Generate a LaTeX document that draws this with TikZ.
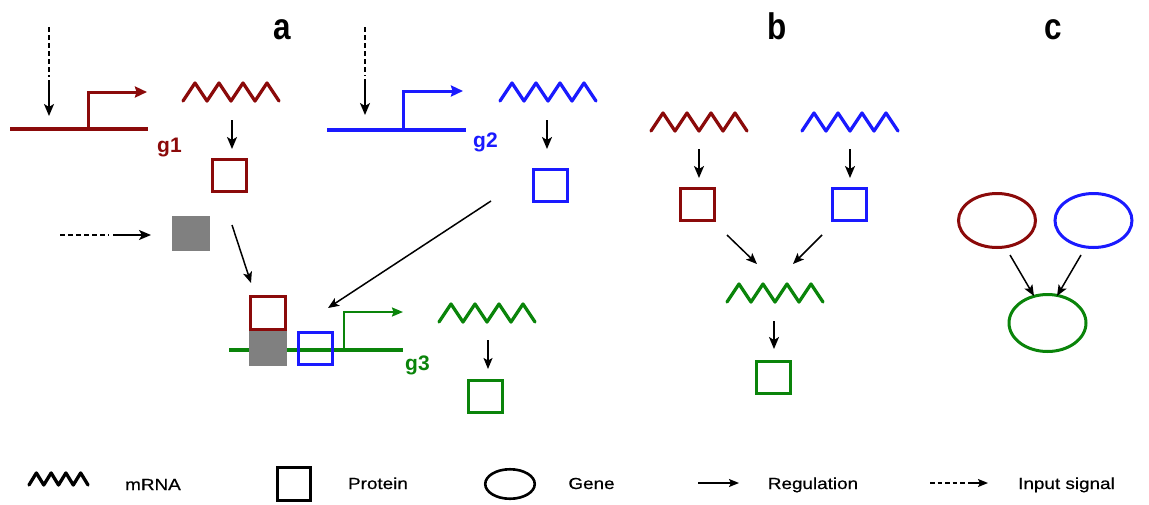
\documentclass[tikz,border=0pt]{standalone}
\usepackage{fontspec}
\usepackage{graphicx}
\setmainfont{Liberation Sans}
\newfontfamily\legfont[FakeBold=0.5]{Liberation Sans}
\usetikzlibrary{arrows.meta,shapes.geometric}

\definecolor{gred}{HTML}{8B0A0A}
\definecolor{gblue}{HTML}{1A1AFF}
\definecolor{ggreen}{HTML}{0A840A}
\definecolor{ggray}{HTML}{808080}

\newcommand{\legtxt}[1]{\scalebox{1.18}[1]{#1}}
\newcommand{\ttl}[1]{\scalebox{0.85}[1]{#1}}

\tikzset{
  mrna/.pic={
    \draw[line width=3.3pt, line join=round, line cap=round, pic actions]
      (0,0) -- (12,-18) -- (24,0) -- (36,-18) -- (48,0)
      -- (60,-18) -- (72,0) -- (84,-18) -- (96,0);
  },
  prot/.style={draw, line width=3pt, minimum width=34pt, minimum height=32pt, inner sep=0pt},
  cplx/.style={fill=ggray, minimum width=38pt, minimum height=35pt, inner sep=0pt},
  gene/.style={draw, ellipse, line width=3pt, minimum width=77pt, minimum height=54pt, inner sep=0pt},
  dna/.style={line width=4pt},
  promoter/.style={line width=3pt, line join=miter, -{Stealth[length=12pt,width=11pt,inset=1.5pt]}},
  reg/.style={line width=1.7pt, -{Stealth[length=12pt,width=10pt,inset=3pt]}},
  regthin/.style={line width=1.5pt, -{Stealth[length=11pt,width=9pt,inset=2.5pt]}},
  sigdash/.style={line width=1.6pt, dash pattern=on 5pt off 3pt},
  glabel/.style={font=\bfseries\fontsize{21}{21}\selectfont, anchor=base west, inner sep=0pt},
  title/.style={font=\bfseries\fontsize{37}{37}\selectfont, anchor=base, inner sep=0pt},
  legend/.style={font=\legfont\fontsize{16}{16}\selectfont, anchor=base, inner sep=0pt},
}

\begin{document}
\begin{tikzpicture}[x=1pt, y=-1pt]
\useasboundingbox (0,0) rectangle (1149,504);

% ---------- panel titles ----------
\node[title] (ta) at (282.5,39) {\ttl{a}};
\node[title] (tb) at (777.5,39) {\ttl{b}};
\node[title] (tc) at (1053,39) {\ttl{c}};

% ================= panel a =================
% gene g1
\coordinate (g1l) at (10,129);
\coordinate (g1r) at (148,129);
\coordinate (g1p) at (88,129);
\coordinate (g1t) at (147,92);
\draw[dna, gred] (g1l) -- (g1r);
\draw[promoter, gred] (g1p) |- (g1t);
\node[glabel, gred] (lg1) at (157,152) {g1};
\pic[draw=gred] (m1) at (183,101) {mrna};
\node[prot, gred] (p1) at (229.5,175.5) {};

% gene g2
\coordinate (g2l) at (327,130);
\coordinate (g2r) at (466,130);
\coordinate (g2p) at (403,130);
\coordinate (g2t) at (463,91);
\draw[dna, gblue] (g2l) -- (g2r);
\draw[promoter, gblue] (g2p) |- (g2t);
\node[glabel, gblue] (lg2) at (473,147) {g2};
\pic[draw=gblue] (m2) at (500,101) {mrna};
\node[prot, gblue] (p2) at (550.5,185.5) {};

% external signal protein
\node[cplx] (s) at (191,233.5) {};

% gene g3 with bound proteins
\coordinate (g3l) at (229,350);
\coordinate (g3r) at (403,350);
\coordinate (g3p) at (344,350);
\coordinate (g3t) at (403,312);
\draw[line width=3.5pt, ggreen] (g3l) -- (g3r);
\draw[line width=2pt, line join=miter, ggreen, -{Stealth[length=11pt,width=9pt,inset=1.5pt]}] (g3p) |- (g3t);
\node[cplx] (cs) at (268,348.5) {};
\node[prot, gblue] (cb) at (315.5,348.5) {};
\node[prot, gred, minimum width=35pt, minimum height=33pt] (cr) at (268,313) {};
\node[glabel, ggreen] (lg3) at (405,370) {g3};
\pic[draw=ggreen] (m3) at (439,322) {mrna};
\node[prot, ggreen] (p3) at (485.5,396) {};

% input signals
\coordinate (i1a) at (49,27);  \coordinate (i1b) at (49,77);
\coordinate (i1c) at (49,80);  \coordinate (i1d) at (49,116);
\draw[sigdash] (i1a) -- (i1b);
\draw[reg] (i1c) -- (i1d);
\coordinate (i2a) at (365,27); \coordinate (i2b) at (365,76);
\coordinate (i2c) at (365,79); \coordinate (i2d) at (365,115);
\draw[sigdash] (i2a) -- (i2b);
\draw[reg] (i2c) -- (i2d);
\coordinate (i3a) at (60,235); \coordinate (i3b) at (109,235);
\coordinate (i3c) at (113,235); \coordinate (i3d) at (151,235);
\draw[sigdash] (i3a) -- (i3b);
\draw[reg] (i3c) -- (i3d);

% regulation arrows
\coordinate (r1a) at (232,120); \coordinate (r1b) at (232,149);
\draw[reg] (r1a) -- (r1b);
\coordinate (r2a) at (547,120); \coordinate (r2b) at (547,149);
\draw[reg] (r2a) -- (r2b);
\coordinate (r3a) at (488,340); \coordinate (r3b) at (488,369);
\draw[regthin] (r3a) -- (r3b);
\coordinate (r4a) at (232,225); \coordinate (r4b) at (251,283);
\draw[regthin] (r4a) -- (r4b);
\coordinate (r5a) at (491,201); \coordinate (r5b) at (328,308);
\draw[regthin] (r5a) -- (r5b);

% ================= panel b =================
\pic[draw=gred] (bm1) at (651,131) {mrna};
\pic[draw=gblue] (bm2) at (802,131) {mrna};
\pic[draw=ggreen] (bm3) at (727,302) {mrna};
\node[prot, gred] (bp1) at (697.5,204.5) {};
\node[prot, gblue] (bp2) at (849.5,204.5) {};
\node[prot, ggreen] (bp3) at (773.5,377) {};
\coordinate (b1a) at (699,149); \coordinate (b1b) at (699,178);
\draw[reg] (b1a) -- (b1b);
\coordinate (b2a) at (850,149); \coordinate (b2b) at (850,178);
\draw[reg] (b2a) -- (b2b);
\coordinate (b3a) at (727,235); \coordinate (b3b) at (757,264);
\draw[regthin] (b3a) -- (b3b);
\coordinate (b4a) at (822,235); \coordinate (b4b) at (793,264);
\draw[regthin] (b4a) -- (b4b);
\coordinate (b5a) at (774,321); \coordinate (b5b) at (774,349);
\draw[reg] (b5a) -- (b5b);

% ================= panel c =================
\node[gene, gred] (c1) at (997,220.5) {};
\node[gene, gblue] (c2) at (1093.5,220.5) {};
\node[gene, ggreen, minimum height=57pt] (c3) at (1047.5,323) {};
\draw[regthin] (c1) ++(13,34.5) coordinate (c1o) -- (1034,296) coordinate (c3i1);
\draw[regthin] (c2) ++(-12.5,34.5) coordinate (c2o) -- (1057,296) coordinate (c3i2);

% ================= legend =================
\pic[draw=black, xscale=0.615, yscale=0.67, line width=3.6pt] (lm) at (29,485) {mrna};
\node[legend] (lmt) at (153,490) {\legtxt{mRNA}};
\node[draw, line width=2.6pt, minimum width=33.5pt, minimum height=33.5pt, inner sep=0pt] (lp) at (294,484) {};
\node[legend] (lpt) at (378,489) {\legtxt{Protein}};
\node[draw, ellipse, line width=2.6pt, minimum width=49.5pt, minimum height=29.5pt, inner sep=0pt] (lg) at (510,484) {};
\node[legend] (lgt) at (591.5,489) {\legtxt{Gene}};
\coordinate (lra) at (698,483); \coordinate (lrb) at (739,483);
\draw[line width=1.4pt, -{Stealth[length=10pt,width=8pt,inset=2pt]}] (lra) -- (lrb);
\node[legend] (lrt) at (813,489) {\legtxt{Regulation}};
\coordinate (lia) at (930,483); \coordinate (lib) at (966,483);
\coordinate (lic) at (968,483); \coordinate (lid) at (988,483);
\draw[line width=1.4pt, dash pattern=on 4.5pt off 3pt] (lia) -- (lib);
\draw[line width=1.4pt, -{Stealth[length=10pt,width=8pt,inset=2pt]}] (lic) -- (lid);
\node[legend] (lit) at (1066.5,489) {\legtxt{Input signal}};
\end{tikzpicture}
\end{document}
